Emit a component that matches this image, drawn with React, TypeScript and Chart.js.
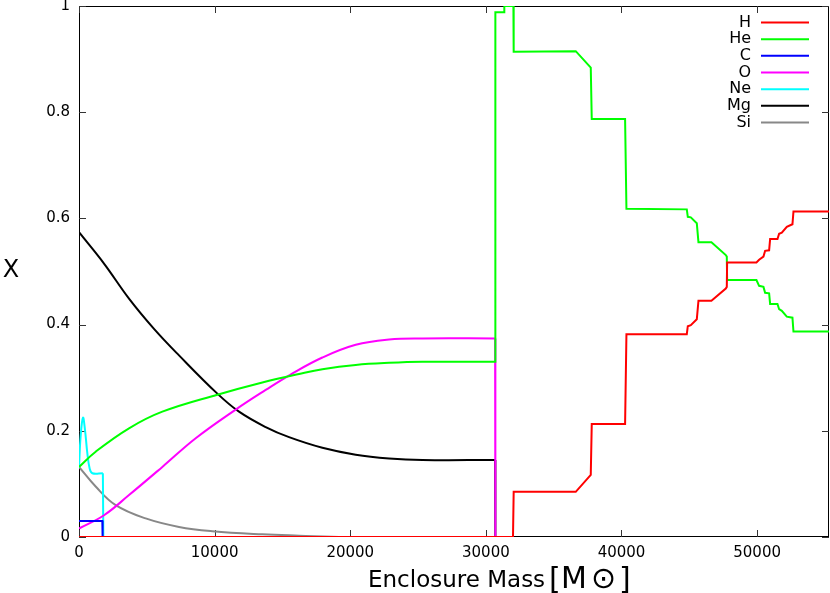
import React, { useEffect, useRef } from "react";
import { Chart, registerables } from "chart.js";
Chart.register(...registerables);

const X_TICKS = [0, 10000, 20000, 30000, 40000, 50000];
const Y_TICKS = [0, 0.2, 0.4, 0.6, 0.8, 1];
const X_MAX = 55300;

const SERIES_NAMES = ["H", "He", "C", "O", "Ne", "Mg", "Si"];
const SERIES_COLORS = ["#ff0000", "#00ff00", "#0000ff", "#ff00ff", "#00ffff", "#000000", "#888888"];

const H_X = [0, 32000, 32050, 36627, 37734, 37807, 40265, 40364, 44815, 44889, 45110, 45552, 45675, 46630, 47690, 47764, 47788, 49950, 50147, 50467, 50590, 50885, 50959, 51500, 51622, 51820, 52189, 52605, 52680, 55300];
const H_Y = [0, 0, 0.085, 0.085, 0.117, 0.213, 0.213, 0.382, 0.382, 0.397, 0.399, 0.41, 0.445, 0.445, 0.468, 0.471, 0.517, 0.517, 0.522, 0.528, 0.539, 0.54, 0.561, 0.561, 0.571, 0.573, 0.584, 0.589, 0.613, 0.613];

const HE_X = [0, 1229, 3687, 6145, 10201, 13520, 16224, 17945, 20403, 22861, 25320, 30680, 30700, 31340, 31360, 32030, 32050, 36627, 37734, 37807, 40265, 40364, 44815, 44889, 45110, 45552, 45675, 46630, 47690, 47764, 47788, 49950, 50147, 50467, 50590, 50885, 50959, 51500, 51622, 51820, 52189, 52605, 52680, 55300];
const HE_Y = [0.132, 0.1607, 0.2047, 0.236, 0.268, 0.291, 0.307, 0.316, 0.324, 0.328, 0.33, 0.33, 0.988, 0.988, 1.0, 1.0, 0.914, 0.915, 0.884, 0.787, 0.787, 0.618, 0.617, 0.603, 0.602, 0.591, 0.555, 0.555, 0.531, 0.528, 0.484, 0.484, 0.473, 0.471, 0.46, 0.459, 0.439, 0.439, 0.429, 0.426, 0.415, 0.413, 0.387, 0.387];

const C_X = [0, 1720, 1740, 3300];
const C_Y = [0.03, 0.03, 0, 0];

const O_X = [0, 1844, 3687, 6145, 8604, 11554, 13766, 15600, 17945, 20403, 22861, 25320, 30680, 30700, 31300];
const O_Y = [0.016, 0.041, 0.079, 0.132, 0.186, 0.24, 0.277, 0.306, 0.338, 0.362, 0.372, 0.374, 0.374, 0, 0];

const NE_X = [0, 120, 295, 442, 614, 786, 983, 1760, 1795, 3300];
const NE_Y = [0.13, 0.19, 0.2247, 0.2015, 0.158, 0.129, 0.12, 0.12, 0, 0];

const MG_X = [0, 1844, 3687, 5531, 7375, 10201, 11799, 13766, 15487, 17945, 20403, 22861, 25320, 30680, 30700, 31300];
const MG_Y = [0.574, 0.515, 0.449, 0.392, 0.342, 0.27, 0.236, 0.207, 0.188, 0.168, 0.155, 0.148, 0.145, 0.145, 0, 0];

const SI_X = [0, 1229, 2704, 4916, 7375, 9833, 13520, 16224, 19700, 30680];
const SI_Y = [0.132, 0.095, 0.06, 0.035, 0.019, 0.011, 0.005, 0.0025, 0, 0];

const SERIES_X = [H_X, HE_X, C_X, O_X, NE_X, MG_X, SI_X];
const SERIES_Y = [H_Y, HE_Y, C_Y, O_Y, NE_Y, MG_Y, SI_Y];
// index of the last point of the smooth (curved) part of each series; -1 = none
const SMOOTH_END = [-1, 11, -1, 12, 7, 13, 9];

const FONT = "'DejaVu Sans', sans-serif";

const framePlugin = {
  id: "frame",
  beforeDatasetsDraw(chart: any) {
    const { ctx, chartArea: a, scales } = chart;
    ctx.save();
    ctx.strokeStyle = "#000";
    ctx.lineWidth = 1;
    ctx.strokeRect(a.left + 0.5, a.top + 0.5, a.right - a.left - 1, a.bottom - a.top - 1);
    ctx.strokeStyle = "#333";
    ctx.beginPath();
    const tl = 7;
    X_TICKS.forEach((v) => {
      const x = Math.round(scales.x.getPixelForValue(v)) + 0.5;
      ctx.moveTo(x, a.bottom);
      ctx.lineTo(x, a.bottom - tl);
      ctx.moveTo(x, a.top);
      ctx.lineTo(x, a.top + tl);
    });
    Y_TICKS.forEach((v) => {
      const y = Math.round(scales.y.getPixelForValue(v)) + 0.5;
      ctx.moveTo(a.left, y);
      ctx.lineTo(a.left + tl, y);
      ctx.moveTo(a.right, y);
      ctx.lineTo(a.right - tl, y);
    });
    ctx.stroke();
    ctx.restore();
  },
  afterDraw(chart: any) {
    const { ctx } = chart;
    ctx.save();
    ctx.font = `16px ${FONT}`;
    ctx.textAlign = "right";
    ctx.textBaseline = "middle";
    SERIES_NAMES.forEach((name, i) => {
      const y = 22.5 + 16.67 * i;
      ctx.fillStyle = "#000";
      ctx.fillText(name, 751, y);
      ctx.strokeStyle = SERIES_COLORS[i];
      ctx.lineWidth = 2;
      ctx.beginPath();
      ctx.moveTo(761, y);
      ctx.lineTo(809, y);
      ctx.stroke();
    });
    ctx.fillStyle = "#000";
    ctx.textAlign = "left";
    ctx.textBaseline = "alphabetic";
    ctx.font = `23px ${FONT}`;
    ctx.fillText("Enclosure Mass", 368, 587);
    ctx.font = `30px ${FONT}`;
    ctx.fillText("[", 549, 589);
    ctx.fillText("M", 561, 588);
    ctx.fillText("\u2299", 591, 588);
    ctx.fillText("]", 619, 589);
    ctx.font = `24px ${FONT}`;
    ctx.textAlign = "center";
    ctx.textBaseline = "middle";
    ctx.fillText("X", 11, 271);
    ctx.restore();
  },
};

export default function App() {
  const ref = useRef<HTMLCanvasElement>(null);
  useEffect(() => {
    if (!ref.current) return;
    const datasets: any[] = [];
    SERIES_NAMES.forEach((name, i) => {
      const pts = SERIES_X[i].map((x, j) => ({ x, y: SERIES_Y[i][j] }));
      const k = SMOOTH_END[i];
      const base = {
        label: name,
        borderColor: SERIES_COLORS[i],
        backgroundColor: SERIES_COLORS[i],
        borderWidth: 2,
        pointRadius: 0,
        showLine: true,
        fill: false,
      };
      if (k >= 0) datasets.push({ ...base, data: pts.slice(0, k + 1), tension: 0.4 });
      if (k < pts.length - 1) datasets.push({ ...base, data: pts.slice(Math.max(k, 0)), tension: 0 });
    });
    const chart = new Chart(ref.current, {
      type: "scatter",
      data: { datasets },
      options: {
        animation: false,
        responsive: false,
        maintainAspectRatio: false,
        events: [],
        layout: { padding: { top: 6, right: 1, left: 0, bottom: 0 } },
        plugins: { legend: { display: false }, tooltip: { enabled: false }, title: { display: false } },
        scales: {
          x: {
            type: "linear",
            min: 0,
            max: X_MAX,
            grid: { display: false, drawTicks: false },
            border: { display: false },
            ticks: { color: "#000", font: { family: FONT, size: 15 }, padding: 7, maxRotation: 0, callback: (v: any) => String(v) },
            afterBuildTicks: (s: any) => { s.ticks = X_TICKS.map((v) => ({ value: v })); },
            afterFit: (s: any) => { s.height = 56; s.paddingLeft = 0; s.paddingRight = 0; },
          },
          y: {
            type: "linear",
            min: 0,
            max: 1,
            grid: { display: false, drawTicks: false },
            border: { display: false },
            ticks: { color: "#000", font: { family: FONT, size: 15 }, padding: 9, callback: (v: any) => String(v) },
            afterBuildTicks: (s: any) => { s.ticks = Y_TICKS.map((v) => ({ value: v })); },
            afterFit: (s: any) => { s.width = 79; s.paddingTop = 0; s.paddingBottom = 0; },
          },
        },
      },
      plugins: [framePlugin],
    } as any);
    return () => chart.destroy();
  }, []);
  return (
    <div style={{ position: "absolute", left: 0, top: 0, width: 830, height: 593, background: "#fff" }}>
      <canvas ref={ref} width={830} height={593} style={{ width: 830, height: 593, display: "block" }} />
    </div>
  );
}
